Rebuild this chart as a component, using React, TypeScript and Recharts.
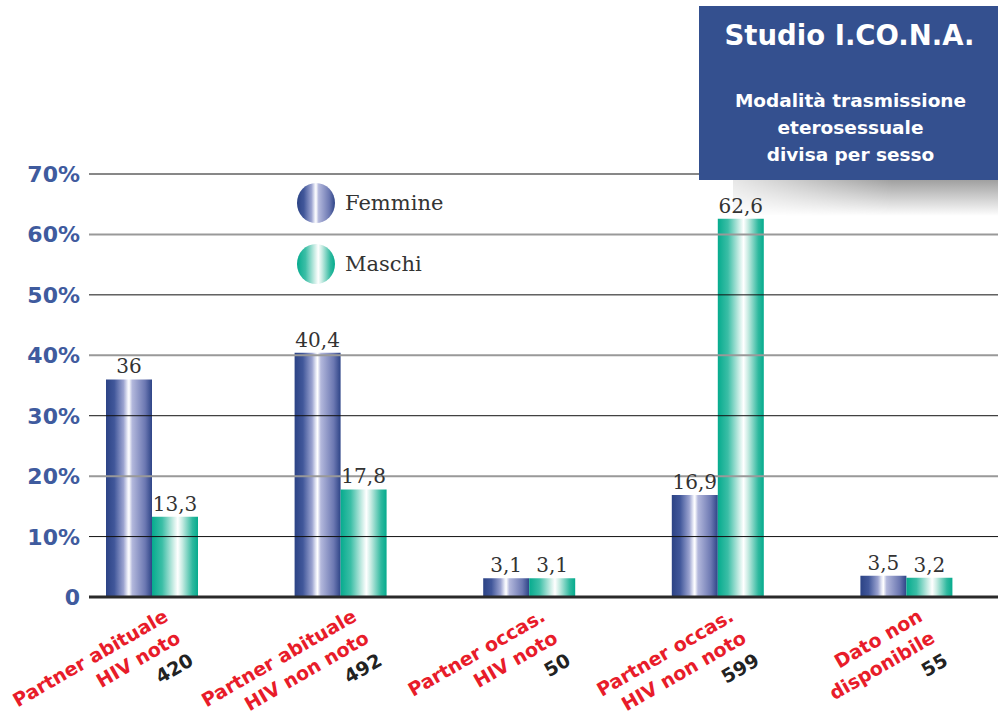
import React from "react";
import { BarChart, Bar, XAxis, YAxis, ReferenceLine, LabelList } from "recharts";

const categories = ["Partner abituale HIV noto", "Partner abituale HIV non noto", "Partner occas. HIV noto", "Partner occas. HIV non noto", "Dato non disponibile"];
const labelLine1 = ["Partner abituale", "Partner abituale", "Partner occas.", "Partner occas.", "Dato non"];
const labelLine2 = ["HIV noto", "HIV non noto", "HIV noto", "HIV non noto", "disponibile"];
const counts = ["420", "492", "50", "599", "55"];
const femmine = [36, 40.4, 3.1, 16.9, 3.5];
const maschi = [13.3, 17.8, 3.1, 62.6, 3.2];
const yTicks = [0, 10, 20, 30, 40, 50, 60, 70];
const seriesNames = ["Femmine", "Maschi"];

const data = categories.map((c, i) => ({ cat: c, f: femmine[i], m: maschi[i] }));

const HEAVY = "'DejaVu Sans', sans-serif";
const SERIF = "'DejaVu Serif', serif";
const BLUE = "#3f5b9e";
const RED = "#e81c2a";

const fmt = (v: any) => String(v).replace(".", ",");

const blueStops = [
  ["0%", "#2c4385"],
  ["18%", "#41579a"],
  ["38%", "#9ba3d0"],
  ["47%", "#eceef8"],
  ["50%", "#ffffff"],
  ["57%", "#b3b8dc"],
  ["85%", "#6c78b2"],
  ["100%", "#2e4487"],
];
const tealStops = [
  ["0%", "#06ab8e"],
  ["22%", "#3bbea6"],
  ["46%", "#c8ece4"],
  ["56%", "#ffffff"],
  ["66%", "#c6ebe2"],
  ["88%", "#2fb99f"],
  ["100%", "#05ab8d"],
];

function Grad({ id, stops }: { id: string; stops: string[][] }) {
  return (
    <linearGradient id={id} x1="0" y1="0" x2="1" y2="0">
      {stops.map(([o, c]) => (
        <stop key={o} offset={o} stopColor={c} />
      ))}
    </linearGradient>
  );
}

const YTick = (props: any) => {
  const { y, payload } = props;
  const v = payload.value;
  return (
    <text x={80} y={y + 8} textAnchor="end" fontFamily={HEAVY} fontWeight="bold" fontSize={22} fill={BLUE}>
      {v === 0 ? "0" : `${v}%`}
    </text>
  );
};

const XTick = (props: any) => {
  const { x, y, payload } = props;
  const i = payload.index;
  return (
    <g transform={`translate(${x + 17},${y + 15}) rotate(-30)`}>
      <text textAnchor="end" fontFamily={HEAVY} fontWeight="bold" fontSize={19} fill={RED}>
        <tspan x={0} y={0}>{labelLine1[i]}</tspan>
        <tspan x={0} y={25}>{labelLine2[i]}</tspan>
      </text>
      <text x={0} y={51} textAnchor="end" fontFamily={HEAVY} fontWeight="bold" fontSize={19} fill="#222">
        {counts[i]}
      </text>
    </g>
  );
};

export default function App() {
  return (
    <div style={{ position: "absolute", left: 0, top: 0, width: 998, height: 721, background: "#fff", overflow: "hidden" }}>
      {/* shadow under the title box */}
      <div
        style={{
          position: "absolute",
          left: 733,
          top: 180,
          width: 265,
          height: 36,
          background: "linear-gradient(to bottom, #a0a0a0, #ffffff)",
          WebkitMaskImage: "linear-gradient(to right, rgba(0,0,0,0.25) 0%, black 60%)",
          maskImage: "linear-gradient(to right, rgba(0,0,0,0.25) 0%, black 60%)",
        }}
      />
      <div style={{ position: "absolute", left: 0, top: 0 }}>
        <BarChart width={998} height={721} data={data} margin={{ top: 174, right: 0, bottom: 0, left: 0 }} barGap={0} barSize={46}>
          <defs>
            <Grad id="gf" stops={blueStops} />
            <Grad id="gm" stops={tealStops} />
          </defs>
          <XAxis
            dataKey="cat"
            height={124}
            axisLine={false}
            tickLine={false}
            interval={0}
            padding={{ left: -31, right: -3 }}
            tick={<XTick />}
          />
          <YAxis width={89} domain={[0, 70]} ticks={yTicks} axisLine={false} tickLine={false} tick={<YTick />} />
          {yTicks.slice(1).map((v, i) => (
            <ReferenceLine key={v} y={v} stroke={i % 2 === 0 ? "#111" : "#999"} strokeWidth={i % 2 === 0 ? 1 : 2} />
          ))}
          <Bar dataKey="f" name={seriesNames[0]} fill="url(#gf)" isAnimationActive={false}>
            <LabelList dataKey="f" position="top" offset={6} formatter={fmt} fill="#333" fontFamily={SERIF} fontSize={20} />
          </Bar>
          <Bar dataKey="m" name={seriesNames[1]} fill="url(#gm)" isAnimationActive={false}>
            <LabelList dataKey="m" position="top" offset={6} formatter={fmt} fill="#333" fontFamily={SERIF} fontSize={20} />
          </Bar>
          <ReferenceLine y={0} stroke="#2a2a2a" strokeWidth={3} />
        </BarChart>
      </div>
      {/* legend */}
      {seriesNames.map((n, i) => (
        <div key={n} style={{ position: "absolute", left: 296, top: 183 + i * 61, display: "flex", alignItems: "center" }}>
          <svg width={40} height={40}>
            <defs>
              <Grad id={`lg${i}`} stops={i === 0 ? blueStops : tealStops} />
            </defs>
            <ellipse cx={20} cy={20} rx={19} ry={20} fill={`url(#lg${i})`} />
          </svg>
          <span style={{ marginLeft: 9, fontFamily: SERIF, fontSize: 21, color: "#333", lineHeight: "40px" }}>{n}</span>
        </div>
      ))}
      {/* title box */}
      <div
        style={{
          position: "absolute",
          left: 699,
          top: 6,
          width: 299,
          height: 174,
          background: "#34508f",
          color: "#fff",
          fontFamily: HEAVY,
          fontWeight: "bold",
          textAlign: "center",
        }}
      >
        <div style={{ fontSize: 27.5, marginTop: 12, lineHeight: "34px", paddingLeft: 2 }}>Studio I.CO.N.A.</div>
        <div style={{ fontSize: 18.5, lineHeight: "27px", marginTop: 35, paddingLeft: 4 }}>
          Modalità trasmissione
          <br />
          eterosessuale
          <br />
          divisa per sesso
        </div>
      </div>
    </div>
  );
}
